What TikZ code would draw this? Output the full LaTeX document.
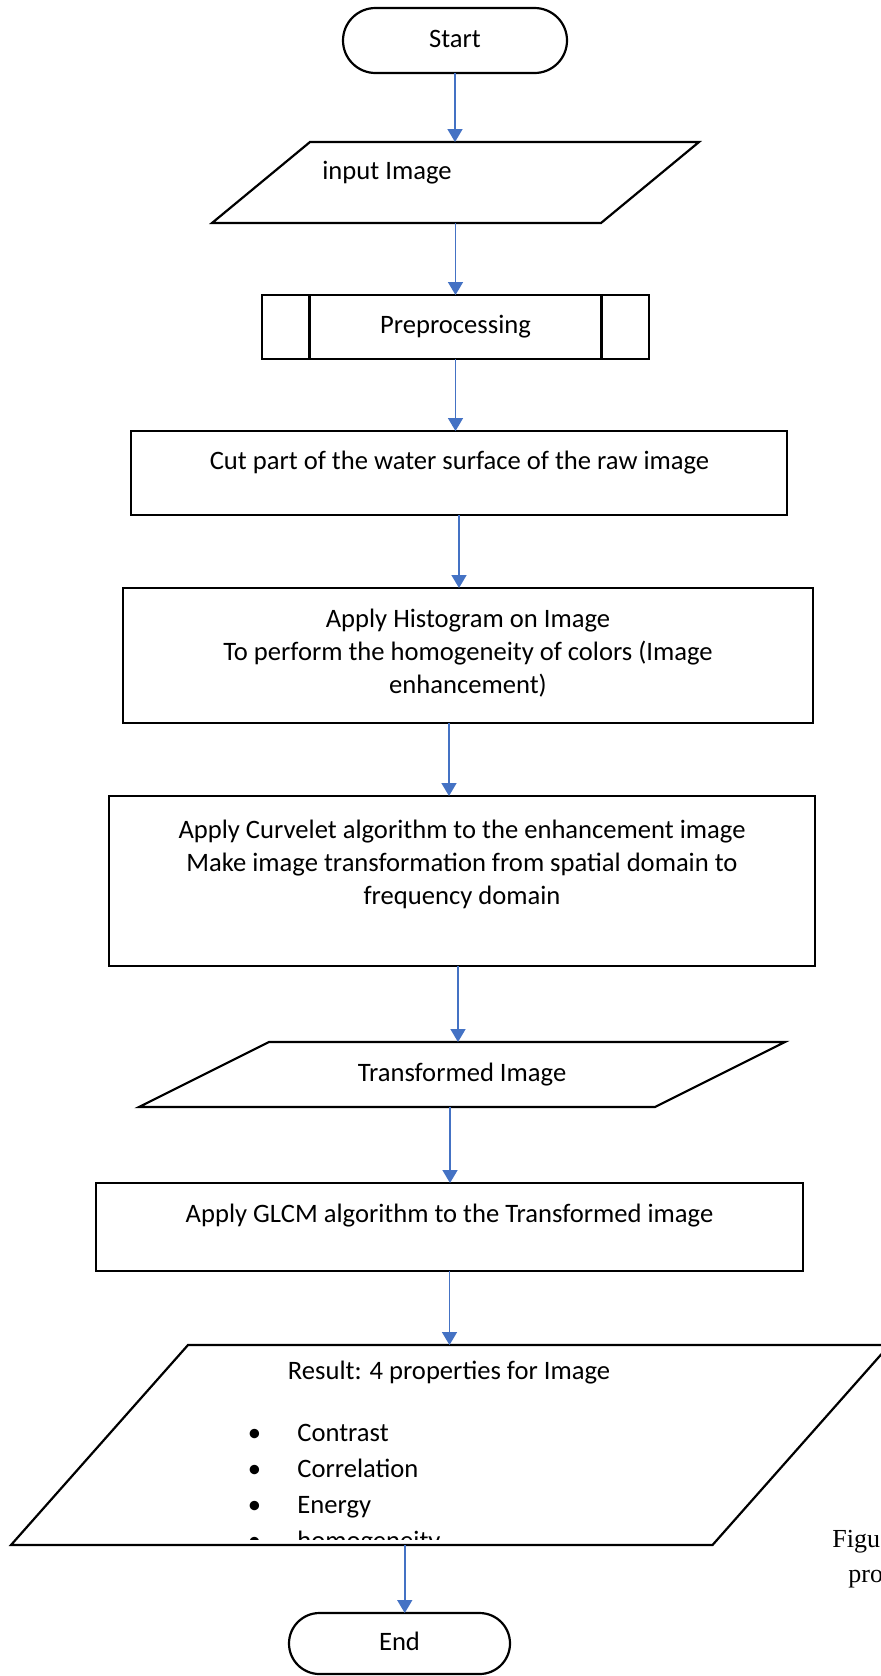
\documentclass[tikz,border=0pt]{standalone}
\usepackage{fontspec}
\setmainfont{Carlito}
\newfontfamily\capfont{Liberation Serif}
\usetikzlibrary{shapes.misc}
\usetikzlibrary{arrows.meta}
\usetikzlibrary{calc}

\begin{document}
\begin{tikzpicture}[x=0.5pt,y=0.5pt,yscale=-1,xscale=1,font=\fontsize{13.3}{16.5}\selectfont,
  outline/.style={line width=1.1pt},
  shapeline/.style={draw, outline, inner sep=0pt, outer sep=0pt},
  terminal/.style={shapeline, rounded rectangle, text depth=0.2em},
  iobox/.style={inner sep=0pt, outer sep=0pt},
  procbox/.style={shapeline, rectangle},
  flow/.style={color={rgb, 255:red, 68; green, 114; blue, 196 }, line width=0.85pt, -{Triangle[length=6.5pt,width=7.5pt]}},
  boxtext/.style={anchor=base, align=center, inner sep=0pt}]
\useasboundingbox (0,0) rectangle (881,1676);
\clip (0,0) rectangle (881,1676);

%Shape: Terminal [id:start]
\node (start) [terminal, minimum width=112pt, minimum height=32.5pt] at (455,40.5) {Start};
%Shape: Parallelogram [id:input]
\node (input) [iobox, minimum width=243.5pt, minimum height=40.5pt] at (455.5,182.5) {};
\draw [outline] (input.south west) -- ($(input.north west)+(98,0)$) -- (input.north east) -- ($(input.south east)+(-98,0)$) -- cycle ;
%Shape: Predefined process [id:pre]
\node (pre) [procbox, minimum width=193.5pt, minimum height=32pt] at (455.5,327) {Preprocessing};
\draw [outline] ($(pre.north west)+(47.5,0)$) -- ($(pre.south west)+(47.5,0)$) ;
\draw [outline] ($(pre.north east)+(-47.5,0)$) -- ($(pre.south east)+(-47.5,0)$) ;
%Shape: Rectangle [id:cut]
\node (cut) [procbox, minimum width=328pt, minimum height=42pt] at (459,473) {};
%Shape: Rectangle [id:hist]
\node (hist) [procbox, minimum width=345pt, minimum height=67.5pt] at (468,655.5) {};
%Shape: Rectangle [id:curv]
\node (curv) [procbox, minimum width=353pt, minimum height=85pt] at (462,881) {};
%Shape: Parallelogram [id:trans]
\node (trans) [iobox, minimum width=323pt, minimum height=32.5pt] at (462,1074.5) {Transformed Image};
\draw [outline] (trans.south west) -- ($(trans.north west)+(130,0)$) -- (trans.north east) -- ($(trans.south east)+(-130,0)$) -- cycle ;
%Shape: Rectangle [id:glcm]
\node (glcm) [procbox, minimum width=353.5pt, minimum height=44pt] at (449.5,1227) {};
%Shape: Parallelogram [id:result]
\node (result) [iobox, minimum width=439.25pt, minimum height=100pt] at (450.25,1445) {};
\draw [outline] (result.south west) -- ($(result.north west)+(177,0)$) -- (result.north east) -- ($(result.south east)+(-177,0)$) -- cycle ;
%Shape: Terminal [id:end]
\node (end) [terminal, minimum width=110.5pt, minimum height=30.5pt] at (399.5,1643.5) {End};

%Straight Lines
\draw [flow] (start.south) -- (start.south |- input.north) ;
\draw [flow] (input.south) -- (input.south |- pre.north) ;
\draw [flow] (pre.south) -- (pre.south |- cut.north) ;
\draw [flow] (cut.south) -- (cut.south |- hist.north) ;
\coordinate (hc) at ($(hist.south)+(-19,0)$) ;
\draw [flow] (hc) -- (hc |- curv.north) ;
\coordinate (ct) at ($(curv.south)+(-4,0)$) ;
\draw [flow] (ct) -- (ct |- trans.north) ;
\coordinate (tg) at ($(trans.south)+(-12,0)$) ;
\draw [flow] (tg) -- (tg |- glcm.north) ;
\draw [flow] (glcm.south) -- (glcm.south |- result.north) ;
\coordinate (re) at ($(result.south)+(-45.5,0)$) ;
\draw [flow] (re) -- (re |- end.north) ;

% Text Node
\node (inputtext) [anchor=base west, inner sep=0pt] at (322,179) {input Image};
% Text Node
\node (cuttext) [boxtext] at (459.5,469) {Cut part of the water surface of the raw image};
% Text Node
\node (histtext) [boxtext] at (468,693) {Apply Histogram on Image\\To perform the homogeneity of colors (Image\\enhancement)};
% Text Node
\node (curvtext) [boxtext] at (462,904) {Apply Curvelet algorithm to the enhancement image\\Make image transformation from spatial domain to\\frequency domain};
% Text Node
\node (glcmtext) [boxtext] at (449.5,1222) {Apply GLCM algorithm to the Transformed image};
% Text Node
\node (resulttext) [boxtext] at (449,1379) {Result: 4 properties for Image};
% Text Node
\node (b1) [anchor=base, inner sep=0pt] at (254.5,1441) {\textbullet};
\node (p1) [anchor=base west, inner sep=0pt] at (297,1441) {Contrast};
\node (b2) [anchor=base, inner sep=0pt] at (254.5,1477) {\textbullet};
\node (p2) [anchor=base west, inner sep=0pt] at (297,1477) {Correlation};
\node (b3) [anchor=base, inner sep=0pt] at (254.5,1513) {\textbullet};
\node (p3) [anchor=base west, inner sep=0pt] at (297,1513) {Energy};
\begin{scope}
\clip (0,0) rectangle (881,1539);
\node (b4) [anchor=base, inner sep=0pt] at (254.5,1549) {\textbullet};
\node (p4) [anchor=base west, inner sep=0pt] at (297,1549) {homogeneity};
\end{scope}
% Text Node
\node (cap1) [anchor=base west, inner sep=0pt, font=\capfont\fontsize{13}{15}\selectfont] at (832,1547) {Figu};
\node (cap2) [anchor=base west, inner sep=0pt, font=\capfont\fontsize{13}{15}\selectfont] at (848,1582) {pro};

\end{tikzpicture}
\end{document}
